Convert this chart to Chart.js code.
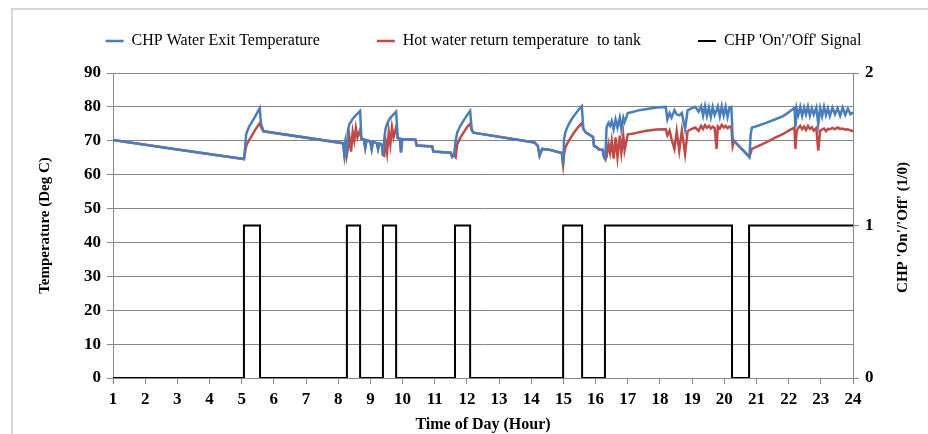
<!DOCTYPE html>
<html>
<head>
<meta charset="utf-8">
<script src="https://cdn.jsdelivr.net/npm/chart.js@4.4.1/dist/chart.umd.min.js"></script>
<style>
  body { margin: 0; background: #fff; }
  #wrap { position: relative; width: 928px; height: 434px; overflow: hidden; }
  #frame { position: absolute; left: 11px; top: 8px; width: 1000px; height: 1000px;
           border-left: 2px solid #d6d6d6; border-top: 2px solid #d6d6d6; }
  #myChart { position: absolute; left: 0; top: 0; }
</style>
</head>
<body>
<div id="wrap">
  <div id="frame"></div>
  <canvas id="myChart" width="928" height="434"></canvas>
</div>
<script>
// time of day (hour) for the temperature traces
const hours = [
  1.00, 3.00, 5.07, 5.10, 5.14, 5.22, 5.32, 5.42, 5.50, 5.56, 5.60, 5.68,
  8.15, 8.19, 8.22, 8.26, 8.30, 8.35, 8.40, 8.45, 8.50, 8.55, 8.60, 8.68, 8.72,
  8.80, 8.84, 8.88, 9.00, 9.04, 9.08, 9.20, 9.24, 9.28, 9.36, 9.39,
  9.43, 9.47, 9.52, 9.57, 9.62, 9.67, 9.72, 9.80, 9.85, 9.92, 9.95, 9.99,
  10.40, 10.44, 10.92, 10.96, 11.50, 11.54, 11.60,
  11.65, 11.70, 11.80, 11.90, 12.00, 12.10, 12.15, 12.20,
  14.10, 14.20, 14.26, 14.34, 14.60, 14.95, 14.99,
  15.02, 15.06, 15.12, 15.20, 15.30, 15.40, 15.50, 15.57, 15.62, 15.70,
  15.92, 15.95, 16.05, 16.10, 16.22, 16.26, 16.30,
  16.34, 16.40, 16.45, 16.50, 16.56, 16.62, 16.68, 16.75, 16.80, 16.86, 16.90,
  17.00, 17.15, 17.30, 17.50, 17.70, 17.90, 18.18, 18.23, 18.30, 18.36,
  18.45, 18.52, 18.60, 18.68, 18.78, 18.86, 18.96, 19.10, 19.20, 19.28,
  19.34, 19.40, 19.46, 19.52, 19.58, 19.64, 19.70, 19.76, 19.80, 19.86,
  19.92, 19.98, 20.04, 20.10, 20.16, 20.22, 20.26, 20.30, 20.50, 20.65, 20.78,
  20.82, 20.86, 21.00, 21.30, 21.55, 21.83, 22.00, 22.18, 22.21, 22.25,
  22.30, 22.36, 22.42, 22.48, 22.54, 22.60, 22.66, 22.72, 22.78, 22.86,
  22.92, 22.98, 23.04, 23.10, 23.16, 23.22, 23.28, 23.36, 23.44, 23.52,
  23.60, 23.68, 23.76, 23.84, 23.92, 24.00
];
const exitTemp = [
  70.2, 67.4, 64.6, 67.5, 72.0, 74.0, 75.6, 77.2, 78.6, 79.6, 75.0, 72.8,
  69.3, 66.0, 68.8, 65.4, 73.0, 75.0, 75.6, 76.5, 77.0, 77.6, 78.0, 78.8, 70.6,
  70.4, 68.0, 70.2, 69.8, 67.6, 69.6, 69.3, 67.6, 69.2, 68.8, 65.8,
  70.5, 73.5, 75.0, 76.0, 76.8, 77.3, 77.8, 78.6, 70.8, 70.6, 66.6, 70.5,
  70.3, 68.6, 68.3, 66.8, 66.5, 65.3, 65.8,
  70.0, 72.5, 74.5, 76.0, 77.5, 78.8, 73.2, 72.4,
  69.5, 68.6, 65.6, 67.6, 67.3, 66.4, 63.0,
  70.5, 72.5, 74.0, 75.5, 77.0, 78.3, 79.5, 80.2, 73.5, 72.4,
  71.1, 68.5, 68.0, 67.4, 67.3, 65.2, 64.6,
  73.9, 75.3, 74.4, 75.8, 73.4, 76.3, 73.9, 76.8, 73.4, 76.8, 75.5,
  78.2, 78.5, 78.9, 79.2, 79.5, 79.8, 80.0, 76.3, 78.2, 76.8,
  79.0, 77.8, 77.5, 78.2, 73.4, 79.0, 79.5, 80.0, 78.6, 80.2,
  77.4, 80.2, 77.3, 79.8, 77.0, 80.0, 77.6, 79.0, 80.1, 77.2,
  80.2, 77.5, 80.0, 77.0, 79.8, 80.0, 70.5, 70.0, 68.0, 66.6, 65.2,
  71.9, 73.9, 74.3, 75.3, 76.2, 77.3, 78.4, 79.7, 74.0, 79.5,
  77.6, 80.0, 77.3, 79.8, 77.8, 80.1, 77.4, 79.6, 77.8, 79.8,
  75.0, 79.6, 77.2, 80.0, 77.6, 79.6, 77.3, 79.8, 77.8, 79.6,
  77.4, 79.8, 77.6, 79.5, 77.8, 78.4
];
const returnTemp = [
  70.2, 67.4, 64.6, 66.2, 68.5, 70.0, 71.6, 73.2, 74.4, 75.2, 74.0, 72.8,
  69.3, 66.0, 68.8, 65.4, 67.5, 71.0, 66.8, 72.6, 70.0, 73.8, 71.0, 73.2, 70.6,
  70.4, 68.0, 70.2, 69.8, 67.6, 69.6, 69.3, 67.6, 69.2, 68.8, 65.8,
  65.6, 70.0, 66.5, 72.6, 69.0, 74.0, 71.0, 74.0, 70.8, 70.6, 66.6, 70.5,
  70.3, 68.6, 68.3, 66.8, 66.5, 65.3, 65.8,
  65.2, 69.0, 71.0, 72.5, 74.0, 75.0, 73.2, 72.4,
  69.5, 68.6, 65.6, 67.6, 67.3, 66.4, 63.0,
  66.0, 68.0, 69.2, 70.5, 72.0, 73.3, 74.5, 75.2, 73.5, 72.4,
  71.1, 68.5, 68.0, 67.4, 67.3, 65.2, 64.6,
  65.2, 69.0, 66.5, 70.0, 64.7, 71.0, 65.2, 71.5, 66.5, 71.5, 67.2,
  71.9, 72.1, 72.4, 72.8, 73.1, 73.3, 73.4, 71.6, 73.0, 70.5,
  67.6, 72.8, 67.1, 73.0, 66.1, 72.8, 73.4, 73.9, 72.9, 74.4,
  73.5, 74.6, 73.8, 74.4, 73.6, 74.2, 73.8, 67.6, 74.2, 73.6,
  74.7, 73.9, 74.4, 73.7, 74.2, 73.9, 68.5, 70.0, 68.0, 66.6, 65.2,
  66.5, 67.6, 68.2, 69.5, 70.8, 72.0, 73.0, 73.9, 67.6, 72.9,
  73.8, 74.4, 73.4, 74.2, 73.2, 74.4, 73.5, 74.0, 73.0, 73.8,
  67.1, 73.0, 73.4, 73.6, 72.8, 73.5, 73.4, 73.8, 73.4, 73.9,
  73.5, 73.6, 73.3, 73.4, 73.0, 72.9
];

// CHP on/off signal: value holds from each hour until the next one
const signalHours = [1, 5.07, 5.57, 8.27, 8.68, 9.39, 9.80, 11.63, 12.10, 14.99, 15.58, 16.29, 20.24, 20.77, 24];
const signalValues = [0, 1, 0, 1, 0, 1, 0, 1, 0, 1, 0, 1, 0, 1, 1];

const seriesNames = ['CHP Water Exit Temperature', 'Hot water return temperature  to tank', "CHP 'On'/'Off' Signal"];
const xTitle = 'Time of Day (Hour)';
const yTitle = 'Temperature (Deg C)';
const y2Title = "CHP 'On'/'Off' (1/0)";

const FONT = '"Liberation Serif", "Times New Roman", serif';
const GRID = '#868686';

const toPoints = (xs, ys) => xs.map((x, i) => ({ x: x, y: ys[i] }));

// right axis title reads bottom-to-top like the left one
const rightTitle = {
  id: 'rightTitle',
  afterDraw(chart) {
    const c = chart.ctx;
    c.save();
    c.translate(903, chart.chartArea.top + (chart.chartArea.bottom - chart.chartArea.top) / 2 + 2);
    c.rotate(-Math.PI / 2);
    c.font = 'bold 15px ' + FONT;
    c.fillStyle = '#000';
    c.textAlign = 'center';
    c.textBaseline = 'middle';
    c.fillText(y2Title, 0, 0);
    c.restore();
  }
};

const legendPad = 57;

new Chart(document.getElementById('myChart'), {
  type: 'line',
  data: {
    datasets: [{
      label: seriesNames[0],
      data: toPoints(hours, exitTemp),
      borderColor: '#4a7ebb',
      backgroundColor: '#4a7ebb',
      borderWidth: 2.5,
      pointRadius: 0,
      xAxisID: 'x',
      yAxisID: 'y'
    }, {
      label: seriesNames[1],
      data: toPoints(hours, returnTemp),
      borderColor: '#be4b48',
      backgroundColor: '#be4b48',
      borderWidth: 2.5,
      pointRadius: 0,
      xAxisID: 'x',
      yAxisID: 'y'
    }, {
      label: seriesNames[2],
      data: toPoints(signalHours, signalValues),
      borderColor: '#000',
      backgroundColor: '#000',
      borderWidth: 2,
      pointRadius: 0,
      stepped: 'before',
      xAxisID: 'x',
      yAxisID: 'y2'
    }]
  },
  options: {
    responsive: false,
    animation: false,
    layout: { padding: { left: 28, right: -11, top: 33 - legendPad, bottom: 0 } },
    plugins: {
      tooltip: { enabled: false },
      legend: {
        position: 'top',
        labels: {
          color: '#000',
          font: { family: FONT, size: 16 },
          boxWidth: 18,
          boxHeight: 0,
          padding: legendPad
        }
      }
    },
    scales: {
      pad: {
        type: 'linear',
        position: 'top',
        min: 0,
        max: 1,
        display: true,
        grid: { display: false },
        border: { display: false },
        ticks: { display: false },
        afterFit: (s) => { s.height = 14; }
      },
      x: {
        type: 'linear',
        min: 1,
        max: 24,
        ticks: { stepSize: 1, color: '#000', padding: 5, font: { family: FONT, size: 17, weight: 'bold' } },
        grid: { drawOnChartArea: false, color: GRID, tickLength: 6 },
        border: { color: GRID },
        title: { display: true, text: xTitle, color: '#000', padding: { top: 2, bottom: 0 },
                 font: { family: FONT, size: 16, weight: 'bold' } },
        afterFit: (s) => { s.height = 56; }
      },
      y: {
        position: 'left',
        min: 0,
        max: 90,
        ticks: { stepSize: 10, color: '#000', padding: 6, font: { family: FONT, size: 17, weight: 'bold' } },
        grid: { color: GRID, tickLength: 6 },
        border: { color: GRID },
        title: { display: true, text: yTitle, color: '#000', padding: { top: 8, bottom: 0 },
                 font: { family: FONT, size: 15, weight: 'bold' } },
        afterFit: (s) => { s.width = 85; }
      },
      y2: {
        position: 'right',
        min: 0,
        max: 2,
        ticks: { stepSize: 1, color: '#000', padding: 6, font: { family: FONT, size: 17, weight: 'bold' } },
        grid: { drawOnChartArea: false, color: GRID, tickLength: 6 },
        border: { color: GRID },
        afterFit: (s) => { s.width = 86; }
      }
    }
  },
  plugins: [rightTitle]
});
</script>
</body>
</html>
